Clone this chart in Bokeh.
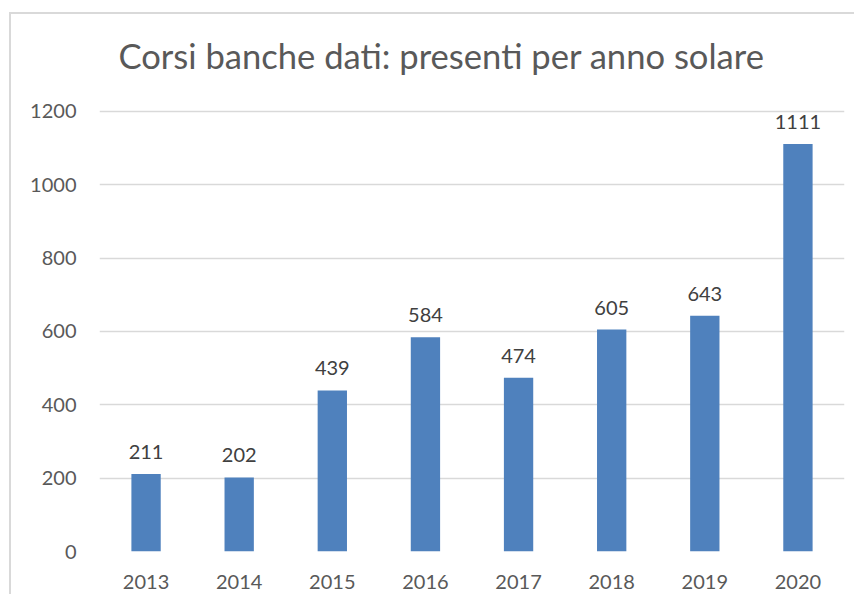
from bokeh.plotting import figure
from bokeh.models import ColumnDataSource, FixedTicker, Range1d
from bokeh.core.properties import value
from bokeh.embed import file_html
from bokeh.resources import INLINE

years = ["2013", "2014", "2015", "2016", "2017", "2018", "2019", "2020"]
presenti = [211, 202, 439, 584, 474, 605, 643, 1111]
y_ticks = [0, 200, 400, 600, 800, 1000, 1200]
title_text = "Corsi banche dati: presenti per anno solare"

FONT = "Lato"
GRAY = "#595959"

src = ColumnDataSource(dict(year=years, val=presenti, lab=[str(v) for v in presenti]))

p = figure(x_range=years, y_range=Range1d(0, 1246), width=845, height=582,
           output_backend="svg", toolbar_location=None,
           min_border_left=88, min_border_right=12, min_border_top=80, min_border_bottom=45)
p.x_range.range_padding = 0

p.vbar(x="year", top="val", width=0.315, source=src, color="#4F81BD", line_color=None)
p.text(x="year", y="val", text="lab", source=src, text_align="center",
       text_baseline="bottom", y_offset=-15, text_font=value(FONT),
       text_font_size="20px", text_color="#404040")

p.title.text = title_text
p.title.align = "left"
p.title.offset = 19
p.title.text_font = FONT
p.title.text_font_size = "34.6px"
p.title.text_font_style = "normal"
p.title.text_color = GRAY
p.title.standoff = 37

p.outline_line_color = None
p.border_fill_color = "white"
p.xgrid.grid_line_color = None
p.ygrid.grid_line_color = "#d9d9d9"
p.ygrid.grid_line_width = 1.5
p.yaxis.ticker = FixedTicker(ticks=y_ticks)

for ax in (p.xaxis, p.yaxis):
    ax.axis_line_color = None
    ax.major_tick_line_color = None
    ax.minor_tick_line_color = None
    ax.major_label_text_font = FONT
    ax.major_label_text_font_size = "20px"
    ax.major_label_text_color = GRAY
p.yaxis.major_label_standoff = 17
p.xaxis.major_label_standoff = 17

p.styles = {"margin-left": "9px", "margin-top": "12px",
            "border-left": "2px solid #d9d9d9", "border-top": "2px solid #d9d9d9"}

open("out.html", "w").write(file_html(p, INLINE))
